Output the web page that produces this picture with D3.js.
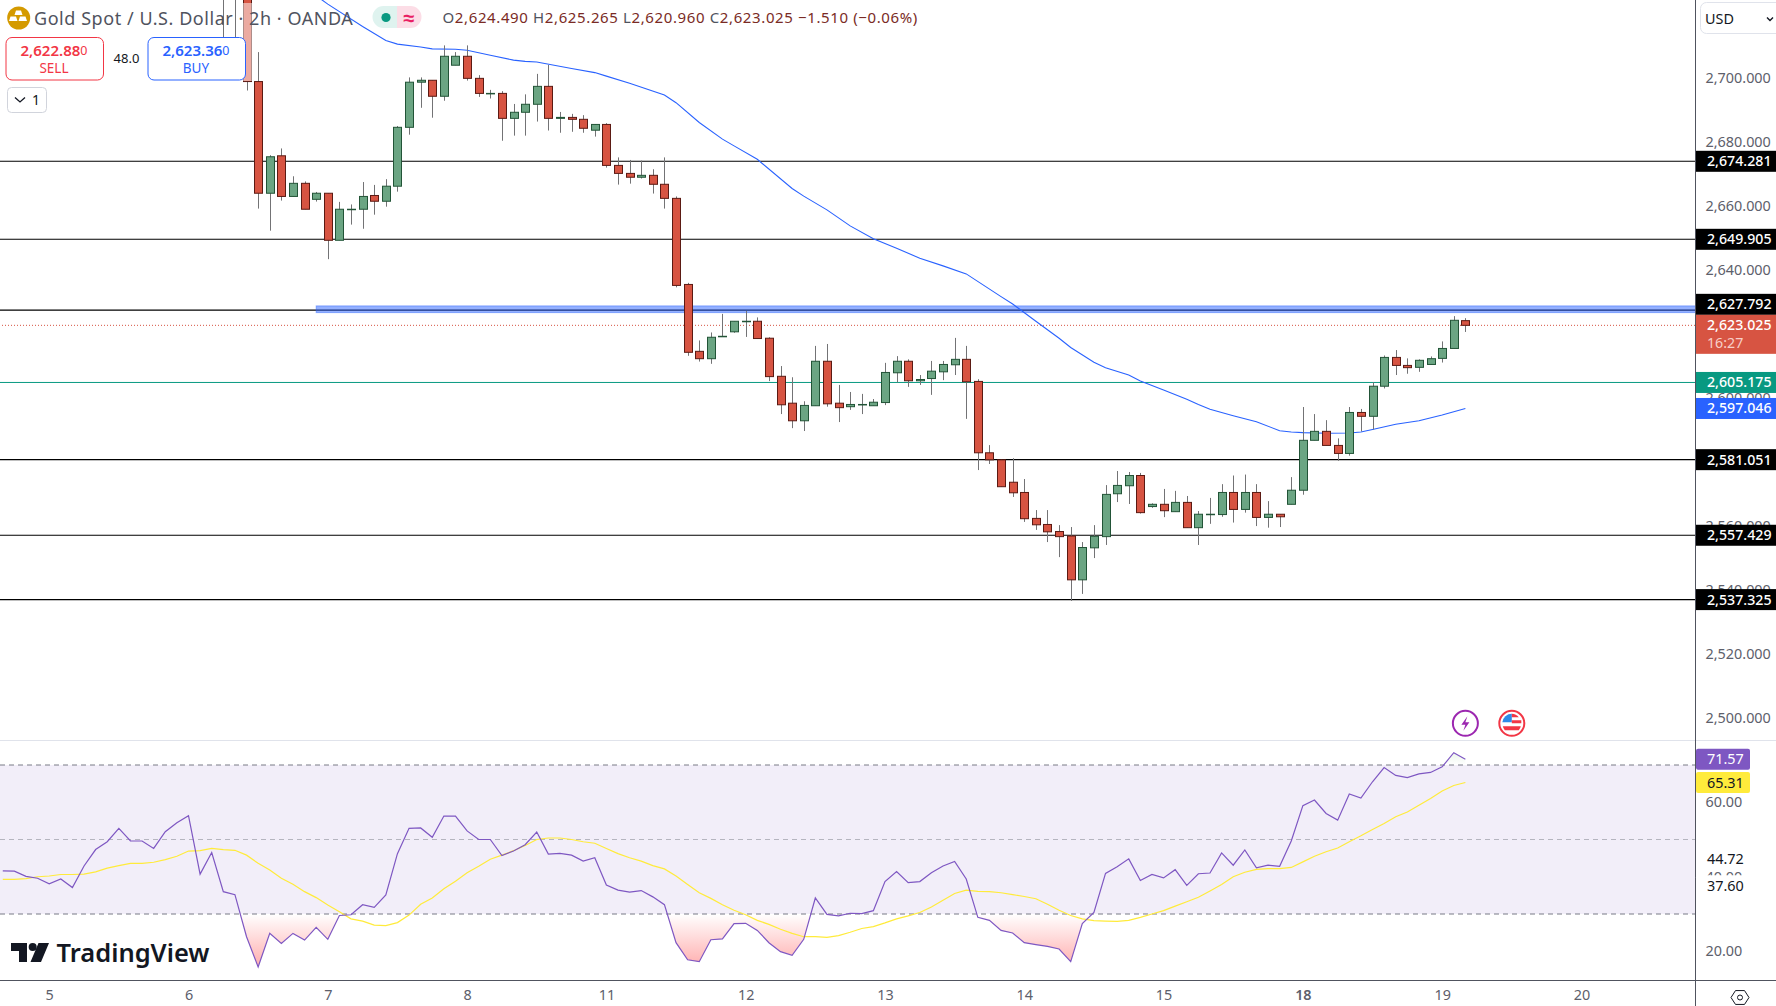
<!DOCTYPE html>
<html>
<head>
<meta charset="utf-8">
<title>Gold Spot / U.S. Dollar</title>
<script src="https://cdnjs.cloudflare.com/ajax/libs/d3/7.9.0/d3.min.js"></script>
<style>
	html, body { margin: 0; padding: 0; background: #fff; overflow: hidden; }
	svg { display: block; }
	text { font-family: "Noto Sans", sans-serif; }
	.axis-price text, .axis-rsi text, .axis-time text { fill: #5d606b; font-size: 14.4px; }
	.axis-price path, .axis-rsi path, .axis-time path,
	.axis-price line, .axis-rsi line, .axis-time line { display: none; }
</style>
</head>
<body>
<div id="chart"></div>
<script>
const WIDTH = 1776;
const HEIGHT = 1006;
const AXIS_X = 1695.5;
const PANE_BOTTOM = 740.5;
const TIME_TOP = 980.5;

// bar numbers: 0 is the first 2h bar of the 5th, 12 bars to a day
const dayBars = [0, 12, 24, 36, 48, 60, 72, 84, 96, 108, 120, 132];
const dayLabels = ['5', '6', '7', '8', '11', '12', '13', '14', '15', '18', '19', '20'];

// 2,580 and 2,620 sit fully behind the price tags, so they are left out
const priceTicks = [2500, 2520, 2540, 2560, 2600, 2640, 2660, 2680, 2700];
const rsiTicks = [20, 40, 60];

const firstCandle = 15;
const candleOpen = [
	2735, 2734, 2730, 2699.2, 2664.3, 2676.0, 2663.3, 2667.4, 2662.4, 2664.3,
	2649.6, 2659.3, 2659.3, 2663.6, 2661.8, 2666.5, 2684.9, 2699.0, 2699.6, 2694.6,
	2704.3, 2707.1, 2700.2, 2695.5, 2695.5, 2687.7, 2689.6, 2692.1, 2697.7, 2687.7,
	2688.0, 2687.4, 2684.0, 2685.8, 2673.0, 2670.5, 2669.3, 2669.9, 2667.1, 2662.7,
	2635.8, 2614.9, 2612.6, 2619.6, 2621.0, 2624.3, 2624.3, 2619.0, 2607.1, 2598.7,
	2593.2, 2597.9, 2611.8, 2598.7, 2597.6, 2598.3, 2597.9, 2598.9, 2608.2, 2611.8,
	2605.7, 2606.4, 2608.5, 2610.7, 2612.4, 2605.5, 2583.2, 2581.0, 2574.0, 2570.8,
	2562.7, 2560.8, 2558.6, 2557.2, 2543.5, 2553.5, 2557.0, 2570.4, 2572.9, 2576.1,
	2566.4, 2567.1, 2564.8, 2567.7, 2559.8, 2564.0, 2563.9, 2570.8, 2565.5, 2570.8,
	2563.0, 2564.0, 2567.1, 2571.5, 2587.1, 2589.9, 2585.5, 2583.0, 2595.8, 2594.6,
	2604.0, 2613.0, 2610.5, 2609.9, 2610.8, 2612.7, 2615.8, 2624.49
];
const candleHigh = [
	2740, 2740, 2735, 2708.4, 2676.2, 2678.3, 2669.6, 2668.0, 2664.7, 2664.3,
	2661.6, 2660.8, 2667.8, 2666.9, 2668.7, 2685.3, 2700.5, 2700.5, 2699.6, 2710.5,
	2708.4, 2710.5, 2701.2, 2696.6, 2696.2, 2692.2, 2695.2, 2701.6, 2704.4, 2689.7,
	2689.1, 2688.7, 2685.9, 2686.2, 2675.5, 2674.7, 2674.5, 2671.8, 2675.5, 2663.3,
	2636.3, 2618.3, 2620.8, 2626.6, 2624.3, 2627.5, 2625.5, 2619.3, 2610.3, 2606.8,
	2599.3, 2616.6, 2617.2, 2604.4, 2602.2, 2601.6, 2600.0, 2611.3, 2613.4, 2612.4,
	2607.5, 2611.9, 2611.9, 2619.1, 2616.6, 2606.2, 2585.6, 2581.0, 2581.5, 2575.0,
	2565.3, 2565.3, 2560.6, 2560.0, 2555.3, 2560.6, 2573.1, 2577.5, 2577.2, 2576.9,
	2567.4, 2571.9, 2571.3, 2569.7, 2565.0, 2569.1, 2573.4, 2576.1, 2576.4, 2573.4,
	2568.1, 2564.0, 2575.6, 2597.5, 2595.3, 2593.4, 2587.7, 2597.5, 2596.9, 2605.2,
	2613.6, 2615.3, 2612.7, 2612.4, 2613.3, 2618.0, 2625.9, 2625.265
];
const candleLow = [
	2711, 2711, 2696.4, 2659.5, 2652.6, 2662.0, 2663.3, 2659.3, 2661.7, 2643.7,
	2649.6, 2654.5, 2653.2, 2657.6, 2660.1, 2664.8, 2682.6, 2691.0, 2687.9, 2693.2,
	2704.3, 2699.5, 2694.4, 2693.9, 2680.7, 2682.3, 2682.3, 2686.7, 2683.9, 2683.2,
	2683.5, 2683.2, 2682.0, 2672.3, 2667.0, 2667.3, 2668.9, 2664.2, 2659.5, 2634.9,
	2613.5, 2611.7, 2611.0, 2619.4, 2620.7, 2619.4, 2618.9, 2605.6, 2595.3, 2590.9,
	2590.0, 2597.9, 2597.6, 2592.8, 2596.6, 2595.3, 2597.9, 2598.1, 2605.2, 2603.8,
	2604.4, 2601.3, 2605.9, 2607.5, 2593.8, 2577.8, 2579.7, 2572.6, 2569.4, 2561.6,
	2559.1, 2555.3, 2550.6, 2536.9, 2539.1, 2550.3, 2554.4, 2567.8, 2567.2, 2564.2,
	2566.0, 2563.1, 2564.8, 2559.8, 2554.4, 2561.0, 2563.2, 2561.4, 2564.5, 2560.3,
	2559.8, 2560.0, 2567.1, 2570.1, 2587.1, 2585.5, 2580.7, 2582.3, 2589.9, 2590.5,
	2603.3, 2607.5, 2607.9, 2608.5, 2610.8, 2611.4, 2615.8, 2620.96
];
const candleClose = [
	2730, 2729, 2699.2, 2664.3, 2675.7, 2663.3, 2667.4, 2659.3, 2664.3, 2649.6,
	2659.3, 2659.3, 2663.3, 2661.8, 2666.5, 2684.9, 2699.0, 2699.6, 2694.6, 2707.1,
	2707.1, 2700.2, 2695.5, 2695.5, 2687.7, 2689.6, 2692.1, 2697.7, 2687.7, 2688.0,
	2687.4, 2684.6, 2685.8, 2673.0, 2670.5, 2669.3, 2669.9, 2667.1, 2662.7, 2635.5,
	2614.6, 2612.6, 2619.3, 2619.6, 2624.3, 2624.3, 2618.9, 2607.0, 2598.2, 2593.2,
	2598.0, 2611.8, 2598.5, 2597.3, 2598.3, 2598.3, 2599.0, 2608.3, 2611.8, 2605.7,
	2606.1, 2608.7, 2610.8, 2612.4, 2605.4, 2583.2, 2581.0, 2572.6, 2570.7, 2562.6,
	2560.7, 2558.5, 2557.0, 2543.5, 2553.6, 2557.1, 2570.2, 2573.0, 2576.1, 2564.5,
	2567.1, 2565.1, 2567.7, 2559.8, 2564.0, 2564.0, 2570.8, 2565.5, 2570.8, 2563.0,
	2564.0, 2563.2, 2571.5, 2587.1, 2589.9, 2585.5, 2583.0, 2595.8, 2594.6, 2604.0,
	2613.0, 2610.5, 2609.8, 2612.1, 2612.6, 2615.8, 2624.6, 2623.025
];

// moving average, read where the curve bends: bar numbers and prices
const maBars = [
	23, 24, 27, 29, 30, 32, 33, 35, 36, 38, 40, 41, 42, 45, 47, 48, 50, 53, 54, 56, 58, 59, 61, 64, 65,
	67, 69, 71, 73, 75, 77, 79, 82, 83, 85, 87, 88, 90, 91, 93, 94, 96, 98, 99, 100, 102, 104, 106, 107,
	108, 110, 112, 113, 114, 116, 118, 120, 122
];
const maValues = [
	2726.0, 2723.4, 2716.4, 2712.0, 2710.9, 2710.0, 2709.4, 2709.3, 2709.0, 2707.4, 2705.9, 2705.5, 2705.3, 2703.3, 2702.0,
	2700.9, 2698.7, 2695.0, 2692.6, 2686.4, 2681.2, 2679.1, 2674.9, 2665.8, 2663.4,
	2659.1, 2654.1, 2650.1, 2647.1, 2644.0, 2641.6, 2639.1, 2632.0, 2629.7, 2624.3, 2619.0, 2616.1, 2611.5, 2609.8, 2607.5,
	2605.6, 2602.8, 2599.9, 2598.3, 2596.8, 2594.8, 2592.9, 2590.1, 2589.7,
	2589.5, 2589.3, 2589.4, 2589.7, 2590.5, 2592.1, 2593.2, 2595.0, 2597.05
];

const levelPrices = [2674.281, 2649.905, 2627.792, 2581.051, 2557.429, 2537.325];
const supportPrice = 2605.175;
const maLast = 2597.046;
const lastClose = 2623.025;
const countdown = '16:27';
const zonePrices = [2629.1, 2627.0];
const zoneStartBar = 23;

// rsi starts four bars before the 5th
const firstRsi = -4;
const rsiValues = [
	41.6, 41.5, 40.1, 39.6, 38.1, 39.4, 37.1, 42.9, 47.3, 49.4, 53.0, 49.6, 49.6, 47.6, 52.1, 54.5, 56.4, 40.7, 46.5,
	36.0, 35.2, 23.9, 15.8, 24.8, 22.1, 24.8, 23.0, 26.4, 23.2, 29.6, 29.8, 32.5, 31.8, 35.1, 46.2, 53.0, 53.1, 50.6,
	56.3, 56.3, 52.3, 50.0, 50.0, 45.7, 46.9, 48.6, 52.0, 46.1, 46.3, 45.8, 44.2, 45.1, 37.8, 36.4, 35.9, 36.3, 34.6,
	32.5, 22.3, 17.7, 17.2, 23.1, 23.3, 27.4, 27.5, 25.6, 22.3, 19.9, 18.9, 23.2, 34.3, 29.9, 29.5, 30.2, 30.1, 30.9,
	38.7, 41.4, 38.4, 38.7, 41.1, 42.9, 44.1, 39.4, 29.1, 28.3, 25.6, 24.9, 22.3, 21.8, 21.3, 20.6, 17.2, 27.4, 30.4,
	40.9, 42.7, 44.8, 39.0, 40.6, 39.7, 41.9, 37.7, 40.8, 41.0, 46.4, 43.1, 47.2, 42.4, 43.1, 42.8, 49.6, 59.1, 60.6,
	57.0, 55.2, 62.2, 61.1, 65.5, 69.3, 67.2, 66.6, 67.6, 68.0, 69.5, 73.3, 71.57
];
const rsiMaValues = [
	39.3, 39.3, 39.5, 40.0, 40.2, 40.6, 40.6, 40.7, 41.3, 42.3, 43.0, 43.6, 43.6, 43.9, 44.6, 45.5, 46.9, 47.0, 47.6,
	47.3, 47.1, 45.8, 43.6, 41.8, 39.6, 38.0, 36.0, 34.4, 32.4, 30.6, 28.7, 28.1, 27.0, 26.9, 27.7, 29.7, 32.6, 34.3,
	36.8, 38.8, 41.1, 42.8, 44.7, 45.8, 47.0, 48.4, 50.0, 50.4, 50.4, 50.0, 49.4, 49.0, 47.6, 46.2, 45.1, 44.2, 43.0,
	42.1, 40.2, 37.9, 35.7, 34.2, 32.5, 31.0, 29.8, 28.3, 27.2, 25.9, 24.8, 23.9, 23.9, 23.7, 24.2, 25.1, 26.1, 26.6,
	27.6, 28.7, 29.5, 30.4, 31.9, 33.7, 35.5, 36.4, 36.1, 36.0, 35.7, 35.2, 34.7, 34.1, 32.6, 31.0, 29.6, 28.7, 28.2,
	28.1, 28.0, 28.3, 29.1, 30.0, 30.9, 32.1, 33.3, 34.5, 36.2, 37.9, 40.0, 41.2, 42.0, 42.2, 42.2, 42.5, 44.0, 45.5,
	46.7, 47.7, 49.4, 51.0, 52.7, 54.3, 56.1, 57.4, 59.2, 61.0, 63.0, 64.5, 65.31
];
const rsiBands = [70, 50, 30];
const bbUpperLabel = 44.72;
const bbLowerLabel = 37.60;

const fmtPrice = d3.format(',.3f');
const fmtRsi = d3.format('.2f');

const x = d3.scaleLinear().domain([0, 132]).range([49.2, 49.2 + 132 * 11.608]);
const y = d3.scaleLinear().domain([2674.281, 2537.325]).range([161.3, 599.6]);
const yRsi = d3.scaleLinear().domain([70, 30]).range([765.0, 914.0]);

const svg = d3.select('#chart').append('svg')
	.attr('width', WIDTH)
	.attr('height', HEIGHT)
	.attr('viewBox', `0 0 ${WIDTH} ${HEIGHT}`);

const defs = svg.append('defs');
defs.append('clipPath').attr('id', 'pane-clip')
	.append('rect').attr('x', 0).attr('y', 0).attr('width', AXIS_X).attr('height', PANE_BOTTOM);
defs.append('clipPath').attr('id', 'below-30')
	.append('rect').attr('x', 0).attr('y', yRsi(30)).attr('width', AXIS_X).attr('height', TIME_TOP - yRsi(30));
defs.append('clipPath').attr('id', 'above-70')
	.append('rect').attr('x', 0).attr('y', PANE_BOTTOM).attr('width', AXIS_X).attr('height', yRsi(70) - PANE_BOTTOM);

const oversold = defs.append('linearGradient').attr('id', 'oversold-fill')
	.attr('gradientUnits', 'userSpaceOnUse')
	.attr('x1', 0).attr('x2', 0).attr('y1', yRsi(30)).attr('y2', yRsi(15));
oversold.append('stop').attr('offset', 0).attr('stop-color', '#ff5252').attr('stop-opacity', 0);
oversold.append('stop').attr('offset', 1).attr('stop-color', '#ff5252').attr('stop-opacity', 0.5);
const overbought = defs.append('linearGradient').attr('id', 'overbought-fill')
	.attr('gradientUnits', 'userSpaceOnUse')
	.attr('x1', 0).attr('x2', 0).attr('y1', yRsi(70)).attr('y2', yRsi(85));
overbought.append('stop').attr('offset', 0).attr('stop-color', '#4caf50').attr('stop-opacity', 0);
overbought.append('stop').attr('offset', 1).attr('stop-color', '#4caf50').attr('stop-opacity', 0.5);

// Main pane
const pane = svg.append('g').attr('clip-path', 'url(#pane-clip)');

pane.selectAll('line.level')
	.data(levelPrices)
	.enter()
	.append('line')
	.classed('level', true)
	.attr('x1', 0)
	.attr('x2', AXIS_X)
	.attr('y1', d => y(d))
	.attr('y2', d => y(d))
	.attr('stroke', '#000')
	.attr('stroke-width', 1.1);

pane.append('line')
	.attr('x1', 0).attr('x2', AXIS_X)
	.attr('y1', y(supportPrice)).attr('y2', y(supportPrice))
	.attr('stroke', '#089981').attr('stroke-width', 1);

pane.append('rect')
	.attr('x', x(zoneStartBar))
	.attr('y', y(zonePrices[0]))
	.attr('width', AXIS_X - x(zoneStartBar))
	.attr('height', y(zonePrices[1]) - y(zonePrices[0]))
	.attr('fill', '#2962ff')
	.attr('fill-opacity', 0.5)
	.attr('stroke', '#2962ff')
	.attr('stroke-opacity', 0.45)
	.attr('stroke-width', 1);

pane.append('line')
	.attr('x1', 2).attr('x2', AXIS_X)
	.attr('y1', y(lastClose)).attr('y2', y(lastClose))
	.attr('stroke', '#d75442').attr('stroke-width', 1).attr('stroke-dasharray', '1 2');

const maLine = d3.line().x((d, i) => x(maBars[i])).y(d => y(d));
pane.append('path')
	.attr('d', maLine(maValues))
	.attr('fill', 'none')
	.attr('stroke', '#2962ff')
	.attr('stroke-width', 1.1);

// Candles
const candles = candleOpen.map((open, i) => ({
	bar: firstCandle + i,
	open,
	high: candleHigh[i],
	low: candleLow[i],
	close: candleClose[i]
}));

const candle = pane.selectAll('g.candle')
	.data(candles)
	.enter()
	.append('g')
	.classed('candle', true);

candle.append('line')
	.attr('x1', d => Math.round(x(d.bar)) + 0.5)
	.attr('x2', d => Math.round(x(d.bar)) + 0.5)
	.attr('y1', d => y(d.high))
	.attr('y2', d => y(d.low))
	.attr('stroke', '#737375')
	.attr('stroke-width', 1);

candle.append('rect')
	.attr('x', d => Math.round(x(d.bar)) - 3.5)
	.attr('width', 8)
	.attr('y', d => y(Math.max(d.open, d.close)))
	.attr('height', d => Math.max(Math.abs(y(d.open) - y(d.close)), 0.5))
	.attr('fill', d => (d.close >= d.open ? '#6ba583' : '#d75442'))
	.attr('stroke', d => (d.close >= d.open ? '#225437' : '#5b1a13'))
	.attr('stroke-width', 1);

// Legend backdrop washes out the candle that runs under the header
svg.append('rect')
	.attr('x', Math.round(x(17)) - 5).attr('y', 3)
	.attr('width', 10).attr('height', 78)
	.attr('fill', '#fff').attr('fill-opacity', 0.5);

// RSI pane
const rsiPane = svg.append('g');

rsiPane.append('rect')
	.attr('x', 0).attr('width', AXIS_X)
	.attr('y', yRsi(70)).attr('height', yRsi(30) - yRsi(70))
	.attr('fill', '#7e57c2').attr('fill-opacity', 0.1);

rsiPane.selectAll('line.band')
	.data(rsiBands)
	.enter()
	.append('line')
	.classed('band', true)
	.attr('x1', 0).attr('x2', AXIS_X)
	.attr('y1', d => yRsi(d)).attr('y2', d => yRsi(d))
	.attr('stroke', '#787b86')
	.attr('stroke-opacity', d => (d === 50 ? 0.5 : 1))
	.attr('stroke-width', 1)
	.attr('stroke-dasharray', '5 4');

const rsiX = (d, i) => x(firstRsi + i);

rsiPane.append('path')
	.attr('d', d3.area().x(rsiX).y0(yRsi(30)).y1(d => yRsi(d))(rsiValues))
	.attr('fill', 'url(#oversold-fill)')
	.attr('clip-path', 'url(#below-30)');
rsiPane.append('path')
	.attr('d', d3.area().x(rsiX).y0(yRsi(70)).y1(d => yRsi(d))(rsiValues))
	.attr('fill', 'url(#overbought-fill)')
	.attr('clip-path', 'url(#above-70)');

const rsiLine = d3.line().x(rsiX).y(d => yRsi(d));
rsiPane.append('path')
	.attr('d', rsiLine(rsiMaValues))
	.attr('fill', 'none')
	.attr('stroke', '#ffeb3b')
	.attr('stroke-width', 1.2);
rsiPane.append('path')
	.attr('d', rsiLine(rsiValues))
	.attr('fill', 'none')
	.attr('stroke', '#7e57c2')
	.attr('stroke-width', 1.2);

// Frame
svg.append('line').attr('x1', 0).attr('x2', WIDTH).attr('y1', PANE_BOTTOM).attr('y2', PANE_BOTTOM)
	.attr('stroke', '#e0e3eb').attr('stroke-width', 1);
svg.append('line').attr('x1', 0).attr('x2', WIDTH).attr('y1', TIME_TOP).attr('y2', TIME_TOP)
	.attr('stroke', '#50535e').attr('stroke-width', 1);
svg.append('line').attr('x1', AXIS_X).attr('x2', AXIS_X).attr('y1', 0).attr('y2', HEIGHT)
	.attr('stroke', '#50535e').attr('stroke-width', 1);

// Axes
svg.append('g')
	.attr('class', 'axis-price')
	.attr('transform', `translate(${AXIS_X},-1.3)`)
	.call(d3.axisRight(y).tickValues(priceTicks).tickFormat(fmtPrice).tickSize(0).tickPadding(10));

svg.append('g')
	.attr('class', 'axis-rsi')
	.attr('transform', `translate(${AXIS_X},0)`)
	.call(d3.axisRight(yRsi).tickValues(rsiTicks).tickFormat(fmtRsi).tickSize(0).tickPadding(10));

svg.append('g')
	.attr('class', 'axis-time')
	.attr('transform', `translate(0,${TIME_TOP})`)
	.call(d3.axisBottom(x).tickValues(dayBars).tickFormat((d, i) => dayLabels[i]).tickSize(0).tickPadding(9))
	.selectAll('text')
	.attr('font-weight', (d, i) => (dayLabels[i] === '18' ? 600 : 400));

// Price tags on the axis; a level tag that would run into the last price tag sits just above it
const lastTagTop = y(lastClose) - 10.5;

function tag(value, label, fill, color) {
	let cy = y(value);
	if (cy + 10.5 > lastTagTop && cy < lastTagTop) {
		cy = lastTagTop - 10.5;
	}
	svg.append('rect')
		.attr('x', AXIS_X + 0.5).attr('y', cy - 10.5)
		.attr('width', WIDTH - AXIS_X).attr('height', 21)
		.attr('fill', fill);
	svg.append('text')
		.attr('x', AXIS_X + 11.5).attr('y', cy)
		.attr('dy', '0.35em')
		.attr('fill', color)
		.attr('font-size', 14.2)
		.attr('font-weight', 500)
		.text(label);
}

levelPrices.forEach(p => tag(p, fmtPrice(p), '#000', '#fff'));
tag(supportPrice, fmtPrice(supportPrice), '#089981', '#fff');
tag(maLast, fmtPrice(maLast), '#2962ff', '#fff');

// last price tag carries the bar countdown
svg.append('rect')
	.attr('x', AXIS_X + 0.5).attr('y', lastTagTop)
	.attr('width', WIDTH - AXIS_X).attr('height', 39)
	.attr('fill', '#d75442');
svg.append('text')
	.attr('x', AXIS_X + 11.5).attr('y', y(lastClose)).attr('dy', '0.35em')
	.attr('fill', '#fff').attr('font-size', 14.2).attr('font-weight', 500)
	.text(fmtPrice(lastClose));
svg.append('text')
	.attr('x', AXIS_X + 11.5).attr('y', y(lastClose) + 17.5).attr('dy', '0.35em')
	.attr('fill', '#f7cfc9').attr('font-size', 14.2)
	.text(countdown);

// RSI tags, narrower than the axis
function rsiTag(value, fill, color) {
	const cy = yRsi(value);
	svg.append('rect')
		.attr('x', AXIS_X + 0.5).attr('y', cy - 10.5)
		.attr('width', 54).attr('height', 21).attr('rx', 2)
		.attr('fill', fill);
	svg.append('text')
		.attr('x', AXIS_X + 11.5).attr('y', cy).attr('dy', '0.35em')
		.attr('fill', color).attr('font-size', 14.4)
		.text(fmtRsi(value));
}

rsiTag(bbUpperLabel, '#fff', '#131722');
rsiTag(bbLowerLabel, '#fff', '#131722');
rsiTag(rsiValues[rsiValues.length - 1], '#7e57c2', '#fff');
rsiTag(rsiMaValues[rsiMaValues.length - 1], '#ffeb3b', '#131722');

// Header
const legend = svg.append('g');
legend.append('circle').attr('cx', 18.7).attr('cy', 18).attr('r', 11.5).attr('fill', '#d49a00');
legend.append('path')
	.attr('d', 'M16 10.5h5l1.5 4.5h-8zM10.5 16.5h5.500l1.500 4.500h-8.500zM20 16.500h5.500l1.500 4.500h-8.500z')
	.attr('fill', '#fff');
legend.append('text')
	.attr('x', 34).attr('y', 24.5)
	.attr('font-size', 18).attr('fill', '#50535e')
	.attr('letter-spacing', 0.55)
	.text('Gold Spot / U.S. Dollar · 2h · OANDA');

legend.append('path')
	.attr('d', 'M383.500 6h-0a11 11 0 0 0 0 22h13.500v-22z')
	.attr('fill', '#dff3ef');
legend.append('path')
	.attr('d', 'M397 6h13.500a11 11 0 0 1 0 22h-13.500z')
	.attr('fill', '#fcdde6');
legend.append('circle').attr('cx', 386).attr('cy', 17.5).attr('r', 4.600).attr('fill', '#089981');
legend.append('text')
	.attr('x', 409).attr('y', 24.5)
	.attr('text-anchor', 'middle')
	.attr('font-size', 20).attr('font-weight', 700).attr('fill', '#e91e63')
	.text('≈');

const ohlcLetters = ['O', 'H', 'L', 'C'];
const ohlcValues = ['2,624.490', '2,625.265', '2,620.960', '2,623.025'];
const ohlcText = legend.append('text')
	.attr('x', 442.500).attr('y', 23)
	.attr('font-size', 15)
	.attr('letter-spacing', 0.62);
ohlcLetters.forEach((letter, i) => {
	ohlcText.append('tspan').attr('fill', '#50535e').text(letter);
	ohlcText.append('tspan').attr('fill', '#7a2b25').text(ohlcValues[i] + ' ');
});
ohlcText.append('tspan').attr('fill', '#7a2b25').text('−1.510 (−0.06%)');

function quoteBox(bx, price, tail, side, color) {
	const box = legend.append('g');
	box.append('rect')
		.attr('x', bx).attr('y', 37.500)
		.attr('width', 97.500).attr('height', 42.500).attr('rx', 6)
		.attr('fill', '#fff').attr('stroke', color).attr('stroke-width', 1);
	const t = box.append('text')
		.attr('x', bx + 48).attr('y', 56)
		.attr('text-anchor', 'middle')
		.attr('fill', color).attr('font-size', 15).attr('font-weight', 600);
	t.append('tspan').text(price);
	t.append('tspan').attr('font-size', 12.5).attr('font-weight', 400).attr('dy', -1).text(tail);
	box.append('text')
		.attr('x', bx + 48).attr('y', 73)
		.attr('text-anchor', 'middle')
		.attr('fill', color).attr('font-size', 13.500)
		.text(side);
}
quoteBox(6, '2,622.88', '0', 'SELL', '#f23645');
quoteBox(148, '2,623.36', '0', 'BUY', '#2962ff');

legend.append('text')
	.attr('x', 126.500).attr('y', 62.500)
	.attr('text-anchor', 'middle')
	.attr('font-size', 13).attr('fill', '#131722')
	.text('48.0');

legend.append('rect')
	.attr('x', 7.500).attr('y', 87.500).attr('width', 39).attr('height', 25).attr('rx', 4)
	.attr('fill', '#fff').attr('stroke', '#d1d4dc');
legend.append('path')
	.attr('d', 'M15 97.500l5 4.500l5-4.500')
	.attr('fill', 'none').attr('stroke', '#131722').attr('stroke-width', 1.300);
legend.append('text')
	.attr('x', 36).attr('y', 105)
	.attr('text-anchor', 'middle')
	.attr('font-size', 14).attr('fill', '#131722')
	.text('1');

// Currency button
svg.append('rect')
	.attr('x', 1700.500).attr('y', 2.500).attr('width', 90).attr('height', 31).attr('rx', 6)
	.attr('fill', '#fff').attr('stroke', '#e0e3eb');
svg.append('text')
	.attr('x', 1705).attr('y', 24)
	.attr('font-size', 14.400).attr('fill', '#131722')
	.text('USD');
svg.append('path')
	.attr('d', 'M1767 17.500l3 3l3-3')
	.attr('fill', 'none').attr('stroke', '#131722').attr('stroke-width', 1.400);

// Event markers
const eventRow = svg.append('g').attr('transform', 'translate(0,723.300)');
const bolt = eventRow.append('g').attr('transform', `translate(${x(122)},0)`);
bolt.append('circle').attr('r', 12.500).attr('fill', '#fff').attr('stroke', '#9c27b0').attr('stroke-width', 2);
bolt.append('path').attr('d', 'M2-7l-6 8.500h4l-2 6l6-8.500h-4z').attr('fill', '#9c27b0');

const flag = eventRow.append('g').attr('transform', `translate(${x(126)},0)`);
flag.append('circle').attr('r', 12.500).attr('fill', '#fff').attr('stroke', '#f23645').attr('stroke-width', 2);
flag.append('path').attr('d', 'M-9.500-1a9.500 9.500 0 0 1 9.500-8.500v8.500z').attr('fill', '#2e8be8');
flag.append('path').attr('d', 'M0-9.500a9.500 9.500 0 0 1 7 3.500h-7zM0-3h9.500v3h-9.500zM-9 3h18a9.500 9.500 0 0 1-2 4h-14a9.500 9.500 0 0 1-2-4z').attr('fill', '#f23645');

// Logo
const logo = svg.append('g');
logo.append('path')
	.attr('d', 'M11 943h16v19h-8v-11h-8zM38.500 943h10.500l-8 19h-10.500z')
	.attr('fill', '#131722');
logo.append('circle').attr('cx', 32.700).attr('cy', 947).attr('r', 4).attr('fill', '#131722');
logo.append('text')
	.attr('x', 56.500).attr('y', 961.500)
	.attr('font-family', 'Inter, sans-serif')
	.attr('font-size', 25.5).attr('font-weight', 600).attr('fill', '#131722')
	.text('TradingView');

// Settings glyph in the corner
const gear = svg.append('g').attr('transform', 'translate(1740,997.500)');
gear.append('path')
	.attr('d', d3.line()(d3.range(6).map(i => {
		const a = Math.PI * i / 3;
		return [9 * Math.cos(a), 8 * Math.sin(a)];
	})) + 'Z')
	.attr('fill', 'none').attr('stroke', '#131722').attr('stroke-width', 1);
gear.append('circle').attr('r', 2.500).attr('fill', 'none').attr('stroke', '#131722').attr('stroke-width', 1);
</script>
</body>
</html>
